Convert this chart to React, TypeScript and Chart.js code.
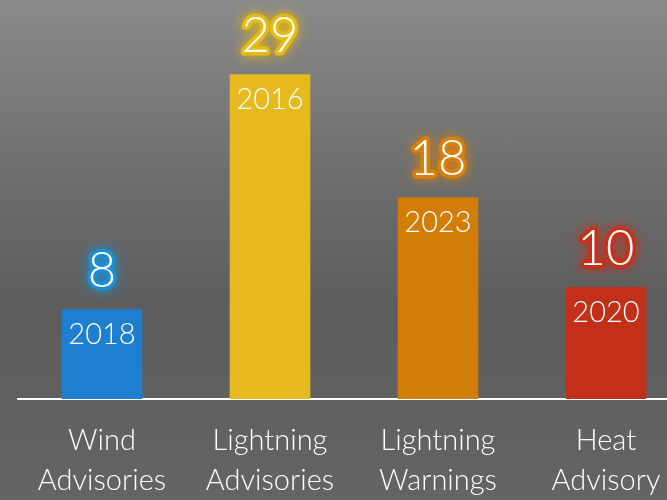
import React, { useEffect, useRef } from "react";
import { Chart, registerables } from "chart.js";
Chart.register(...registerables);

const categories: string[][] = [
  ["Wind", "Advisories"],
  ["Lightning", "Advisories"],
  ["Lightning", "Warnings"],
  ["Heat", "Advisory"],
];
const counts = [8, 29, 18, 10];
const years = ["2018", "2016", "2023", "2020"];
const barColors = ["#1e7fd1", "#e6b91e", "#d37d09", "#c3301a"];
const glowColors = ["#1a8fd4", "#e8b910", "#d9800a", "#c8301a"];

const FONT = "Lato, 'Noto Sans', sans-serif";

const labelPlugin = {
  id: "barLabels",
  afterDatasetsDraw(chart: any) {
    const ctx = chart.ctx as CanvasRenderingContext2D;
    const meta = chart.getDatasetMeta(0);
    meta.data.forEach((bar: any, i: number) => {
      const x = bar.x;
      const top = bar.y;
      ctx.save();
      ctx.textAlign = "center";
      ctx.textBaseline = "alphabetic";
      ctx.font = `300 49px ${FONT}`;
      ctx.lineJoin = "round";
      ctx.shadowColor = glowColors[i];
      ctx.shadowBlur = 12;
      ctx.strokeStyle = glowColors[i];
      ctx.lineWidth = 7;
      ctx.strokeText(String(counts[i]), x, top - 22);
      ctx.shadowBlur = 0;
      ctx.fillStyle = "#ffffff";
      ctx.fillText(String(counts[i]), x, top - 22);
      ctx.font = `300 29px ${FONT}`;
      ctx.fillText(years[i], x, top + 35);
      ctx.restore();
    });
  },
};

export default function App() {
  const ref = useRef<HTMLCanvasElement | null>(null);
  useEffect(() => {
    if (!ref.current) return;
    const chart = new Chart(ref.current, {
      type: "bar",
      data: {
        labels: categories,
        datasets: [
          {
            data: counts,
            backgroundColor: barColors,
            borderWidth: 0,
            barPercentage: 0.8,
            categoryPercentage: 0.6,
          },
        ],
      },
      options: {
        responsive: false,
        animation: false,
        layout: { padding: { left: 18, right: 0, top: 7, bottom: 0 } },
        plugins: { legend: { display: false }, tooltip: { enabled: false } },
        scales: {
          x: {
            grid: { display: false, drawTicks: false },
            border: { display: true, color: "#ffffff", width: 2 },
            ticks: {
              color: "#ffffff",
              padding: 22,
              font: { family: FONT, size: 29, weight: "300", lineHeight: 1.38 },
              maxRotation: 0,
              autoSkip: false,
            },
          },
          y: { display: false, min: 0, max: 35 },
        },
      },
      plugins: [labelPlugin],
    });
    return () => chart.destroy();
  }, []);
  return (
    <div
      style={{
        position: "fixed",
        left: 0,
        top: 0,
        width: 667,
        height: 500,
        overflow: "hidden",
        background:
          "linear-gradient(to bottom, #8a8a8a 0%, #6e6e6e 35%, #5d5d5d 62%, #646464 100%)",
      }}
    >
      <canvas ref={ref} width={690} height={523} style={{ display: "block" }} />
    </div>
  );
}
